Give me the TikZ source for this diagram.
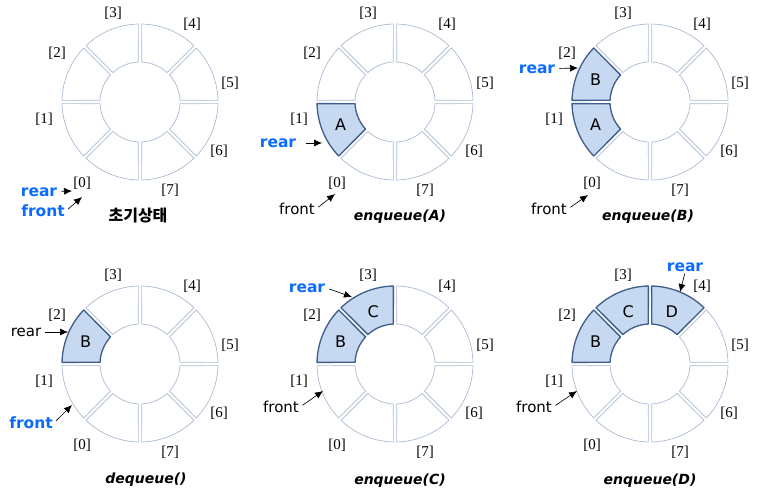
\documentclass[tikz,border=0pt]{standalone}
\usepackage{fontspec}
\setmainfont{Liberation Serif}
\newfontfamily\comicfont{DejaVu Sans}
\newfontfamily\kofont{Noto Sans CJK KR}
\usepackage{xcolor}
\usetikzlibrary{calc, arrows.meta, positioning}

\definecolor{cellfill}{HTML}{C6D9F1}
\definecolor{cellline}{HTML}{3F5E8C}
\definecolor{emptyline}{HTML}{A9BAD4}
\definecolor{ptrblue}{HTML}{0A6CFF}

\newcommand{\Ro}{78pt}
\newcommand{\Ri}{40pt}
% one cell of the ring: #1 = style, #2 = index
\newcommand{\ringcell}[2]{%
  \draw[#1] ({-135-45*#2+1.2}:\Ro) arc[start angle={-135-45*#2+1.2}, end angle={-90-45*#2-1.2}, radius=\Ro]
    -- ({-90-45*#2-2.4}:\Ri) arc[start angle={-90-45*#2-2.4}, end angle={-135-45*#2+2.4}, radius=\Ri] -- cycle;}

\begin{document}
\begin{tikzpicture}[x=1pt, y=1pt, >={Latex[length=8pt,width=7pt]},
    emptycell/.style={draw=emptyline, line width=0.7pt},
    fullcell/.style={draw=cellline, fill=cellfill, line width=1.3pt, line join=round},
    idx/.style={font=\fontsize{15}{17}\selectfont},
    letter/.style={font=\comicfont\fontsize{16}{18}\selectfont},
    ptrname/.style={font=\comicfont\fontsize{15}{17}\selectfont, inner sep=1pt},
    ptrhot/.style={ptrname, font=\comicfont\bfseries\fontsize{15.5}{17}\selectfont, text=ptrblue},
    ptr/.style={->, line width=0.65pt, shorten <=3pt},
    caption/.style={font=\comicfont\bfseries\itshape\fontsize{14}{17}\selectfont}]
    \useasboundingbox (0,0) rectangle (760,501);

    % 1. Vong tron va chi so cho ca sau trang thai
    \foreach \d/\cx/\cy in {1/140/399, 2/395/399, 3/650/399, 4/140/137, 5/395/137, 6/650/137} {
      \begin{scope}[shift={(\cx,\cy)}]
        \foreach \k in {0,...,7} {\ringcell{emptycell}{\k}}
        \foreach \k/\lx/\ly in {0/-58/-81, 1/-96/-17, 2/-83/49, 3/-27/89,
                                 4/52/78, 5/90/19, 6/79/-49, 7/30/-88} {
          \node[idx] (idx\d-\k) at (\lx,\ly) {[\k]};
        }
      \end{scope}
    }

    % 2. Trang thai ban dau
    \begin{scope}[shift={(140,399)}]
      \node[ptrhot] (rear1) at (-101,-90) {rear};
      \node[ptrhot] (front1) at (-97,-109) {front};
      \coordinate (rear1tip) at (-68,-89);
      \coordinate (front1tip) at (-58,-95);
      \draw[ptr] (rear1) -- (rear1tip);
      \draw[ptr] (front1.east) -- (front1tip);
      \node[caption, font=\kofont\bfseries\fontsize{16}{18}\selectfont] (cap1) at (-2,-114) {초기상태};
    \end{scope}

    % 3. enqueue(A)
    \begin{scope}[shift={(395,399)}]
      \ringcell{fullcell}{1}
      \node[letter] (cellA2) at (202.5:59pt) {A};
      \node[ptrhot] (rear2) at (-117,-41) {rear};
      \node[ptrname] (front2) at (-98,-107) {front};
      \coordinate (rear2tip) at (-73,-41);
      \coordinate (front2tip) at (-60,-92);
      \draw[ptr, shorten <=9pt] (rear2) -- (rear2tip);
      \draw[ptr] (front2.east) -- (front2tip);
      \node[caption] (cap2) at (5,-115) {enqueue(A)};
    \end{scope}

    % 4. enqueue(B)
    \begin{scope}[shift={(650,399)}]
      \ringcell{fullcell}{1}
      \ringcell{fullcell}{2}
      \node[letter] (cellA3) at (202.5:59pt) {A};
      \node[letter] (cellB3) at (157.5:59pt) {B};
      \node[ptrhot] (rear3) at (-113,33) {rear};
      \node[ptrname] (front3) at (-101,-107) {front};
      \coordinate (rear3tip) at (-72,34);
      \coordinate (front3tip) at (-62,-93);
      \draw[ptr] (rear3) -- (rear3tip);
      \draw[ptr] (front3.east) -- (front3tip);
      \node[caption] (cap3) at (-2,-115) {enqueue(B)};
    \end{scope}

    % 5. dequeue()
    \begin{scope}[shift={(140,137)}]
      \ringcell{fullcell}{2}
      \node[letter] (cellB4) at (157.5:59pt) {B};
      \node[ptrname] (rear4) at (-114,32) {rear};
      \node[ptrhot] (front4) at (-109,-59) {front};
      \coordinate (rear4tip) at (-72,32);
      \coordinate (front4tip) at (-68,-41);
      \draw[ptr] (rear4) -- (rear4tip);
      \draw[ptr] (front4.east) -- (front4tip);
      \node[caption] (cap4) at (6,-116) {dequeue()};
    \end{scope}

    % 6. enqueue(C)
    \begin{scope}[shift={(395,137)}]
      \ringcell{fullcell}{2}
      \ringcell{fullcell}{3}
      \node[letter] (cellB5) at (157.5:59pt) {B};
      \node[letter] (cellC5) at (112.5:57pt) {C};
      \node[ptrhot] (rear5) at (-88,76) {rear};
      \node[ptrname] (front5) at (-114,-43) {front};
      \coordinate (rear5tip) at (-43,67);
      \coordinate (front5tip) at (-72,-27);
      \draw[ptr] (rear5.east) -- (rear5tip);
      \draw[ptr] (front5.east) -- (front5tip);
      \node[caption] (cap5) at (5,-117) {enqueue(C)};
    \end{scope}

    % 7. enqueue(D)
    \begin{scope}[shift={(650,137)}]
      \ringcell{fullcell}{2}
      \ringcell{fullcell}{3}
      \ringcell{fullcell}{4}
      \node[letter] (cellB6) at (157.5:59pt) {B};
      \node[letter] (cellC6) at (112.5:57pt) {C};
      \node[letter] (cellD6) at (67.5:57pt) {D};
      \node[ptrhot] (rear6) at (35,97) {rear};
      \node[ptrname] (front6) at (-116,-43) {front};
      \coordinate (rear6tip) at (30,72);
      \coordinate (front6tip) at (-73,-27);
      \draw[ptr, shorten <=1pt] (rear6.south) -- (rear6tip);
      \draw[ptr] (front6.east) -- (front6tip);
      \node[caption] (cap6) at (0,-117) {enqueue(D)};
    \end{scope}
\end{tikzpicture}
\end{document}
